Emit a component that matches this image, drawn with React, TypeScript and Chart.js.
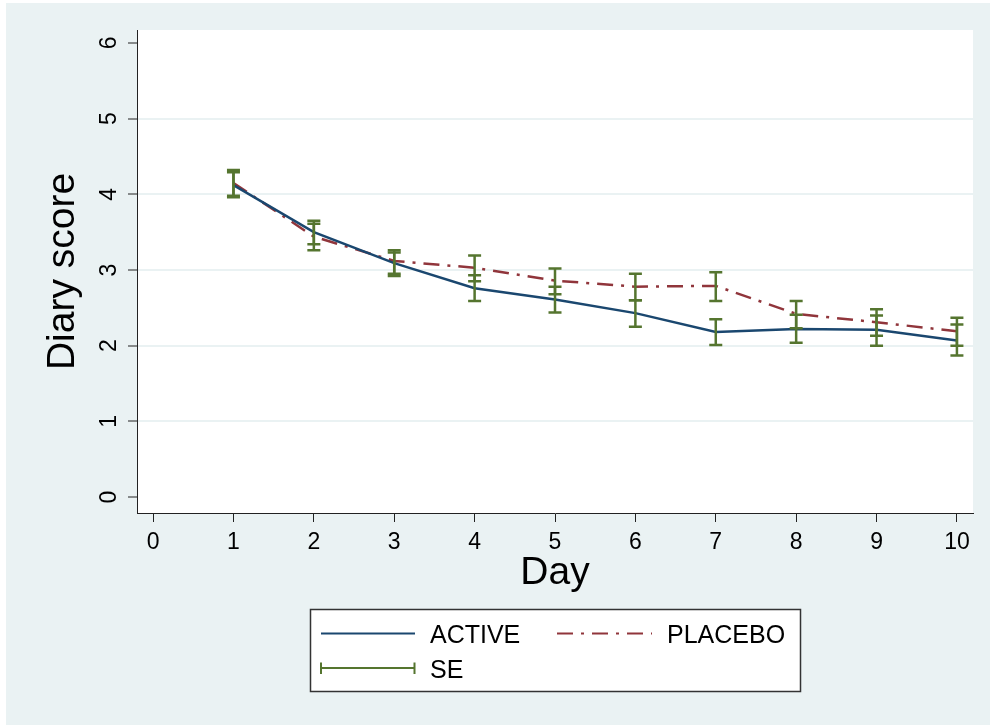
import React, { useEffect, useRef } from 'react';
import { Chart, registerables } from 'chart.js';

Chart.register(...registerables);

// ---- data ----
const days = [1, 2, 3, 4, 5, 6, 7, 8, 9, 10];
const activeMean = [4.12, 3.5, 3.09, 2.76, 2.61, 2.43, 2.18, 2.22, 2.21, 2.07];
const placeboMean = [4.15, 3.44, 3.12, 3.03, 2.86, 2.78, 2.79, 2.42, 2.31, 2.19];
const activeLo = [3.96, 3.34, 2.92, 2.59, 2.44, 2.25, 2.01, 2.04, 2.0, 1.87];
const activeHi = [4.29, 3.65, 3.23, 2.93, 2.78, 2.6, 2.35, 2.41, 2.4, 2.28];
const placeboLo = [3.98, 3.26, 2.95, 2.85, 2.68, 2.6, 2.59, 2.23, 2.13, 2.0];
const placeboHi = [4.32, 3.61, 3.26, 3.19, 3.02, 2.95, 2.97, 2.59, 2.48, 2.37];
const xTicks = [0, 1, 2, 3, 4, 5, 6, 7, 8, 9, 10];
const yTicks = [0, 1, 2, 3, 4, 5, 6];
const seriesLabels = ['ACTIVE', 'PLACEBO', 'SE'];
const xTitle = 'Day';
const yTitle = 'Diary score';

// ---- styles ----
const NAVY = '#1A476F';
const MAROON = '#90353B';
const GREEN = '#55752F';
const BG = '#EAF2F3';
const AXIS = '#222222';
const FONT = "'Liberation Sans', Arial, sans-serif";
const DASH = [16, 8, 3, 8];

const bgPlugin = {
  id: 'bgPlugin',
  beforeDraw(chart: any) {
    const { ctx, chartArea: a, width, height } = chart;
    ctx.save();
    ctx.fillStyle = '#ffffff';
    ctx.fillRect(0, 0, width, height);
    ctx.fillStyle = BG;
    ctx.fillRect(6, 3, width - 6, height - 3);
    ctx.fillStyle = '#ffffff';
    ctx.fillRect(a.left, a.top, a.right - a.left, a.bottom - a.top);
    ctx.restore();
  },
};

const errPlugin = {
  id: 'errPlugin',
  afterDatasetsDraw(chart: any) {
    const { ctx } = chart;
    const xs = chart.scales.x;
    const ys = chart.scales.y;
    ctx.save();
    ctx.strokeStyle = GREEN;
    ctx.lineWidth = 2.5;
    ctx.lineCap = 'butt';
    const groups = [
      [activeLo, activeHi],
      [placeboLo, placeboHi],
    ];
    groups.forEach(([lo, hi]) => {
      days.forEach((d, i) => {
        const px = xs.getPixelForValue(d);
        const p1 = ys.getPixelForValue(lo[i]);
        const p2 = ys.getPixelForValue(hi[i]);
        ctx.beginPath();
        ctx.moveTo(px, p1);
        ctx.lineTo(px, p2);
        ctx.moveTo(px - 6.5, p1);
        ctx.lineTo(px + 6.5, p1);
        ctx.moveTo(px - 6.5, p2);
        ctx.lineTo(px + 6.5, p2);
        ctx.stroke();
      });
    });
    ctx.restore();
  },
};

const legendPlugin = {
  id: 'legendPlugin',
  afterDraw(chart: any) {
    const { ctx } = chart;
    ctx.save();
    // box
    ctx.fillStyle = '#ffffff';
    ctx.fillRect(310, 609, 491, 83);
    ctx.strokeStyle = '#333333';
    ctx.lineWidth = 1.5;
    ctx.strokeRect(310.5, 609.5, 490, 82);
    // ACTIVE
    ctx.lineWidth = 2;
    ctx.strokeStyle = NAVY;
    ctx.beginPath();
    ctx.moveTo(321, 633.5);
    ctx.lineTo(415, 633.5);
    ctx.stroke();
    // PLACEBO
    ctx.strokeStyle = MAROON;
    ctx.setLineDash(DASH);
    ctx.beginPath();
    ctx.moveTo(557, 633.5);
    ctx.lineTo(652, 633.5);
    ctx.stroke();
    ctx.setLineDash([]);
    // SE
    ctx.strokeStyle = GREEN;
    ctx.beginPath();
    ctx.moveTo(321, 668);
    ctx.lineTo(415, 668);
    ctx.moveTo(321, 662.5);
    ctx.lineTo(321, 674);
    ctx.moveTo(414.5, 662.5);
    ctx.lineTo(414.5, 674);
    ctx.stroke();
    // text
    ctx.fillStyle = '#000000';
    ctx.font = `25px ${FONT}`;
    ctx.textBaseline = 'alphabetic';
    ctx.textAlign = 'left';
    ctx.fillText(seriesLabels[0], 430, 643);
    ctx.fillText(seriesLabels[1], 667, 643);
    ctx.fillText(seriesLabels[2], 430, 678);
    ctx.restore();
  },
};

export default function App() {
  const ref = useRef<HTMLCanvasElement>(null);

  useEffect(() => {
    if (!ref.current) return;
    const chart = new Chart(ref.current, {
      type: 'scatter',
      data: {
        datasets: [
          {
            label: seriesLabels[0],
            data: days.map((d, i) => ({ x: d, y: activeMean[i] })),
            showLine: true,
            borderColor: NAVY,
            backgroundColor: NAVY,
            borderWidth: 2.5,
            pointRadius: 0,
            tension: 0,
          },
          {
            label: seriesLabels[1],
            data: days.map((d, i) => ({ x: d, y: placeboMean[i] })),
            showLine: true,
            borderColor: MAROON,
            backgroundColor: MAROON,
            borderWidth: 2.5,
            borderDash: DASH,
            pointRadius: 0,
            tension: 0,
          },
        ],
      },
      options: {
        animation: false,
        responsive: false,
        maintainAspectRatio: false,
        layout: { padding: { top: 30, right: 17, left: 0, bottom: 0 } },
        plugins: {
          legend: { display: false },
          tooltip: { enabled: false },
        },
        scales: {
          x: {
            type: 'linear',
            min: -0.2,
            max: 10.2,
            afterBuildTicks: (s: any) => {
              s.ticks = xTicks.map((v) => ({ value: v }));
            },
            afterFit: (s: any) => {
              s.height = 212;
            },
            grid: {
              display: true,
              drawOnChartArea: false,
              drawTicks: true,
              tickLength: 9,
              tickColor: AXIS,
              tickWidth: 1,
            },
            border: { display: true, color: AXIS, width: 1 },
            ticks: {
              color: '#000000',
              font: { family: FONT, size: 23 },
              padding: 7,
              maxRotation: 0,
              minRotation: 0,
              callback: (v: any) => String(v),
            },
            title: {
              display: true,
              text: xTitle,
              color: '#000000',
              font: { family: FONT, size: 39 },
              padding: { top: 0, bottom: 128.6 },
            },
          },
          y: {
            type: 'linear',
            min: -0.21,
            max: 6.17,
            afterBuildTicks: (s: any) => {
              s.ticks = yTicks.map((v) => ({ value: v }));
            },
            afterFit: (s: any) => {
              s.width = 137;
            },
            grid: {
              display: true,
              drawOnChartArea: true,
              drawTicks: true,
              tickLength: 9,
              tickColor: AXIS,
              tickWidth: 1,
              lineWidth: 2,
              color: (c: any) =>
                c.tick && (c.tick.value === yTicks[0] || c.tick.value === yTicks[yTicks.length - 1])
                  ? 'rgba(0,0,0,0)'
                  : BG,
            },
            border: { display: true, color: AXIS, width: 1 },
            ticks: {
              color: '#000000',
              font: { family: FONT, size: 23 },
              padding: 11.6,
              minRotation: 90,
              maxRotation: 90,
              crossAlign: 'center',
              callback: (v: any) => String(v),
            },
            title: {
              display: true,
              text: yTitle,
              color: '#000000',
              font: { family: FONT, size: 39 },
              padding: { top: 39.6, bottom: 0 },
            },
          },
        },
      },
      plugins: [bgPlugin, errPlugin, legendPlugin],
    } as any);
    return () => chart.destroy();
  }, []);

  return (
    <div style={{ position: 'fixed', left: 0, top: 0, width: 990, height: 725 }}>
      <canvas ref={ref} width={990} height={725} style={{ display: 'block', width: 990, height: 725 }} />
    </div>
  );
}
